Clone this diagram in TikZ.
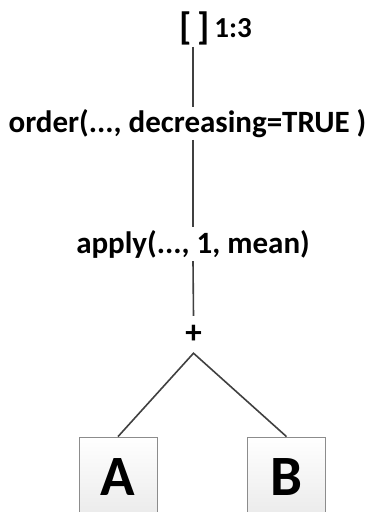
\documentclass[tikz,border=0pt]{standalone}
\usepackage{fontspec}
\setmainfont{Carlito}
\begin{document}
\begin{tikzpicture}[x=1pt,y=-1pt,
  lbl/.style={font=\bfseries, inner xsep=0pt, inner ysep=2pt},
  conn/.style={draw=black!75, line width=1.6pt},
  leaf/.style={draw=black!45, line width=0.8pt, top color=white, bottom color=black!8,
               minimum width=78pt, minimum height=80pt, inner sep=0pt,
               font=\fontsize{57}{57}\selectfont\bfseries}]
\useasboundingbox (0,0) rectangle (375,512);
\node[lbl, font=\fontsize{38}{38}\selectfont\bfseries] (br) at (195,28) {[\hspace{6pt}]};
\node[lbl, font=\fontsize{29}{29}\selectfont\bfseries] (rng) at (233,28) {1:3};
\node[lbl, font=\fontsize{31}{31}\selectfont\bfseries, inner ysep=2pt] (ord) at (187.5,123.5) {order(..., decreasing=TRUE )};
\node[lbl, font=\fontsize{31}{31}\selectfont\bfseries, inner ysep=3pt] (app) at (193,244) {apply(..., 1, mean)};
\node[lbl, font=\fontsize{33}{33}\selectfont\bfseries, minimum height=37pt] (plus) at (193.5,334.5) {+};
\node[leaf] (A) at (118,477) {A};
\node[leaf] (B) at (286.5,477) {B};
\draw[conn] (193,0 |- br.south) -- (193,0 |- ord.north);
\draw[conn] (193,0 |- ord.south) -- (193,0 |- app.north);
\draw[conn] (193,0 |- app.south) -- (plus.north);
\draw[conn, line join=miter] (A.north) -- (plus.south) -- (B.north);
\end{tikzpicture}
\end{document}
